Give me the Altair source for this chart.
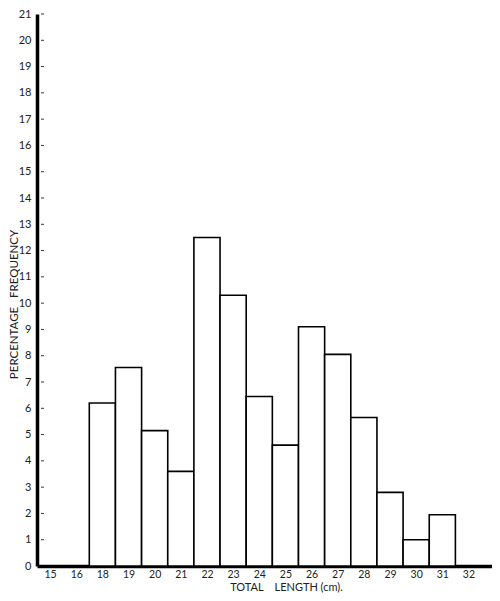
import altair as alt
import pandas as pd

tick_labels = ["15", "16", "18", "19", "20", "21", "22", "23", "24", "25",
               "26", "27", "28", "29", "30", "31", "32"]
lengths = [18, 19, 20, 21, 22, 23, 24, 25, 26, 27, 28, 29, 30, 31]
percent = [6.2, 7.55, 5.15, 3.6, 12.5, 10.3, 6.45, 4.6, 9.1, 8.05, 5.65, 2.8, 1.0, 1.95]
y_ticks = list(range(1, 22))
y_labels = list(range(0, 22))

idx = [tick_labels.index(str(v)) for v in lengths]
bars_df = pd.DataFrame({"length": lengths, "pct": percent,
                        "x0": idx, "x1": [i + 1 for i in idx]})
ticks_df = pd.DataFrame({"t": y_ticks})

label_js = "[" + ",".join(f"'{t}'" for t in tick_labels) + "]"
FONT = "Lato"

x_scale = alt.Scale(domain=[0, 17.4], nice=False, zero=False)
y_scale = alt.Scale(domain=[0, 21.0], nice=False, zero=True)

y_axis = alt.Axis(values=y_labels, format="d",
                  title="PERCENTAGE\u00a0\u00a0\u00a0FREQUENCY",
                  ticks=False, grid=False, domainWidth=3.5, domainColor="black",
                  labelPadding=6, labelFontSize=11, labelFont=FONT, labelColor="#222",
                  labelFlush=False, labelOverlap=False,
                  titleFont=FONT, titleFontSize=11.5, titleFontWeight="normal",
                  titleColor="#222", titleX=-23, titleY=290, titleAngle=270,
                  titleAlign="center", titleBaseline="middle")

bars = alt.Chart(bars_df).mark_rect(fill="white", stroke="black", strokeWidth=1.6).encode(
    x=alt.X("x0:Q", scale=x_scale,
            axis=alt.Axis(values=[i + 0.5 for i in range(len(tick_labels))],
                          labelExpr=f"{label_js}[floor(datum.value)]",
                          title="TOTAL\u00a0\u00a0\u00a0\u00a0LENGTH (cm).",
                          ticks=False, grid=False, domainWidth=3.5, domainColor="black",
                          labelPadding=3, labelFontSize=10.5, labelFont=FONT, labelColor="#222",
                          labelFlush=False, labelOverlap=False,
                          titleFont=FONT, titleFontSize=11, titleFontWeight="normal",
                          titleColor="#222", titleX=249, titleY=24,
                          titleAlign="center", titleBaseline="alphabetic")),
    x2="x1:Q",
    y=alt.Y("pct:Q", scale=y_scale, axis=y_axis),
    y2=alt.datum(0),
)

ticks = alt.Chart(ticks_df).mark_rule(color="#333", strokeWidth=1).encode(
    y=alt.Y("t:Q", scale=y_scale, axis=y_axis),
    x=alt.value(4),
    x2=alt.value(7),
)

chart = alt.layer(bars, ticks).properties(
    width=455, height=552,
    autosize=alt.AutoSizeParams(type="none"),
    padding={"left": 29, "top": 6, "right": 0, "bottom": 27},
).configure_view(stroke=None).configure_axis(labelOverlap=False)

chart.save("out.html", embed_options={"renderer": "svg", "actions": False})
